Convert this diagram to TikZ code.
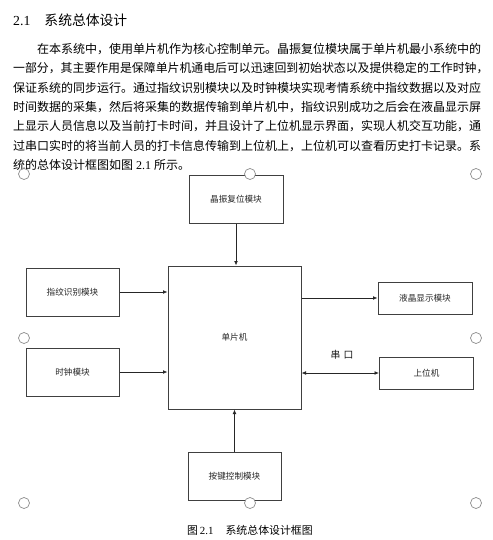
\documentclass[tikz,border=0pt]{standalone}
\usepackage{fontspec}
\setmainfont{Liberation Serif}
\newfontfamily\cjk{Noto Sans CJK SC}
\usetikzlibrary{arrows.meta}
\begin{document}
\begin{tikzpicture}[x=1pt,y=-1pt,
  bodytext/.style={anchor=base west,inner sep=0pt,font=\fontsize{12}{14}\selectfont\cjk},
  blk/.style={draw=black!75,line width=1pt,fill=white,inner sep=0pt,
    font=\fontsize{8.6}{10}\selectfont\cjk,text=black!85},
  arr/.style={draw=black!85,line width=0.8pt,-{Latex[length=4.5pt,width=3.8pt]}},
  darr/.style={draw=black!85,line width=0.8pt,{Latex[length=4.5pt,width=3.8pt]}-{Latex[length=4.5pt,width=3.8pt]}},
  handle/.style={circle,draw=black!45,line width=0.7pt,fill=white,minimum size=11pt,inner sep=0pt}]
\useasboundingbox (0,0) rectangle (492,540);
\fill[white] (0,0) rectangle (492,540);
% heading
\node[anchor=base west,inner sep=0pt,font=\fontsize{13.8}{16}\selectfont] (title) at (13,25.2)
  {2.1\hspace{14pt}{\cjk 系统总体设计}};
% paragraph
\node[bodytext] (l1) at (37,53.6) {在本系统中，使用单片机作为核心控制单元。晶振复位模块属于单片机最小系统中的};
\node[bodytext,xscale=0.99] (l2) at (13,72.9) {一部分，其主要作用是保障单片机通电后可以迅速回到初始状态以及提供稳定的工作时钟，};
\node[bodytext] (l3) at (13,92.2) {保证系统的同步运行。通过指纹识别模块以及时钟模块实现考情系统中指纹数据以及对应};
\node[bodytext] (l4) at (13,111.5) {时间数据的采集，然后将采集的数据传输到单片机中，指纹识别成功之后会在液晶显示屏};
\node[bodytext] (l5) at (13,130.8) {上显示人员信息以及当前打卡时间，并且设计了上位机显示界面，实现人机交互功能，通};
\node[bodytext] (l6) at (13,150.1) {过串口实时的将当前人员的打卡信息传输到上位机上，上位机可以查看历史打卡记录。系};
\node[bodytext] (l7) at (13,169.4) {统的总体设计框图如图{\rmfamily\ 2.1\ }所示。};
% blocks
\node[blk,minimum width=94pt,minimum height=48pt] (jz) at (236,199) {晶振复位模块};
\node[blk,minimum width=133pt,minimum height=143pt] (mcu) at (234.5,337.5) {单片机};
\node[blk,minimum width=93pt,minimum height=48pt] (zw) at (72.5,292) {指纹识别模块};
\node[blk,minimum width=93pt,minimum height=48pt] (sz) at (72.5,372) {时钟模块};
\node[blk,minimum width=94pt,minimum height=32pt] (yj) at (425,298) {液晶显示模块};
\node[blk,minimum width=94pt,minimum height=32pt] (sw) at (426.5,373) {上位机};
\node[blk,minimum width=93pt,minimum height=48pt] (aj) at (234.5,476) {按键控制模块};
% connectors
\draw[arr] (jz.south) -- (jz.south |- mcu.north);
\draw[arr] (zw.east) -- (zw.east -| mcu.west);
\draw[arr] (sz.east) -- (sz.east -| mcu.west);
\draw[arr] (mcu.east |- yj.west) -- (yj.west);
\draw[darr] (mcu.east |- sw.west) -- (sw.west);
\draw[arr] (aj.north) -- (aj.north |- mcu.south);
\node[inner sep=0pt,font=\fontsize{9.8}{11}\selectfont\cjk,text=black!90] (ck) at (342,355) {串\hspace{3pt}口};
% caption
\node[anchor=base,inner sep=0pt,font=\fontsize{10.9}{12}\selectfont] (cap) at (250,534)
  {{\cjk 图}\,2.1\hspace{12pt}{\cjk 系统总体设计框图}};
% selection handles
\node[handle] (h1) at (24,174) {};
\node[handle] (h2) at (250,174) {};
\node[handle] (h3) at (476,174) {};
\node[handle] (h4) at (24,338) {};
\node[handle] (h5) at (476,338) {};
\node[handle] (h6) at (24,503) {};
\node[handle] (h7) at (250,503) {};
\node[handle] (h8) at (476,503) {};
\end{tikzpicture}
\end{document}
